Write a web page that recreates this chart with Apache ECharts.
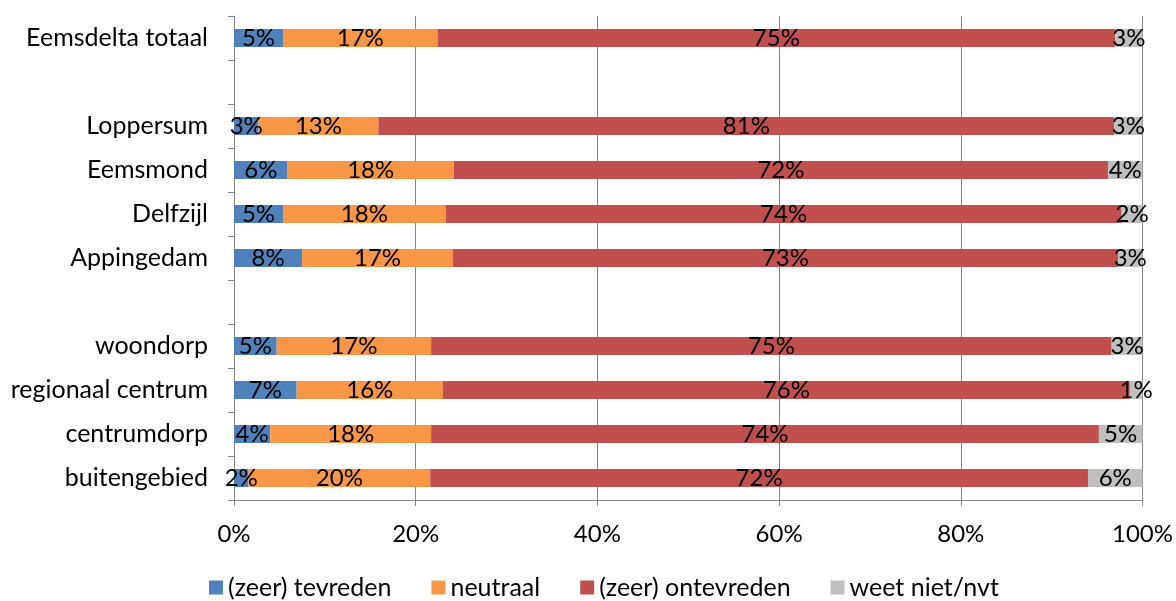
<!DOCTYPE html>
<html>
<head>
<meta charset="utf-8">
<script src="https://cdn.jsdelivr.net/npm/echarts@6/dist/echarts.min.js"></script>
<style>
  html, body { margin: 0; padding: 0; background: #fff; }
  #chart { width: 1176px; height: 601px; }
</style>
</head>
<body>
<div id="chart"></div>
<script>
// categories top to bottom (blank rows separate the groups)
var categories = ['Eemsdelta totaal', ' ', 'Loppersum', 'Eemsmond', 'Delfzijl', 'Appingedam', '  ',
  'woondorp', 'regionaal centrum', 'centrumdorp', 'buitengebied'];

var tevreden   = [5.4, null, 2.7, 5.9, 5.4, 7.5, null, 4.7, 6.9, 4.0, 1.6];
var neutraal   = [17.0, null, 13.2, 18.3, 17.9, 16.6, null, 17.0, 16.1, 17.7, 20.0];
var ontevreden = [74.6, null, 81.0, 72.0, 74.4, 73.2, null, 74.9, 75.6, 73.5, 72.4];
var weetNiet   = [3.0, null, 3.1, 3.8, 2.3, 2.7, null, 3.4, 1.4, 4.8, 6.0];

var seriesNames = ['(zeer) tevreden', 'neutraal', '(zeer) ontevreden', 'weet niet/nvt'];
var colors = ['#4f81bd', '#f79646', '#c0504d', '#bfbfbf'];

var font = 'Lato';
var chart = echarts.init(document.getElementById('chart'), null, { renderer: 'canvas' });

function makeSeries(name, data, color) {
  return {
    name: name,
    type: 'bar',
    stack: 'total',
    data: data,
    barWidth: 18,
    itemStyle: { color: color },
    label: {
      show: true,
      position: 'inside',
      color: '#000',
      fontFamily: font,
      fontSize: 24,
      formatter: function (p) {
        return p.value == null ? '' : Math.round(p.value) + '%';
      }
    }
  };
}

var option = {
  animation: false,
  textStyle: { fontFamily: font },
  grid: { left: 234, right: 33, top: 16, bottom: 101, containLabel: false },
  legend: {
    top: 570,
    left: 204,
    itemWidth: 14,
    itemHeight: 14,
    itemGap: 40,
    icon: 'rect',
    textStyle: { fontFamily: font, fontSize: 25, color: '#000' },
    data: seriesNames
  },
  xAxis: {
    type: 'value',
    min: 0,
    max: 100,
    interval: 20,
    axisLine: { show: true, lineStyle: { color: '#868686' } },
    axisTick: { show: true, length: 6, lineStyle: { color: '#868686' } },
    axisLabel: {
      color: '#000', fontFamily: font, fontSize: 24, margin: 22,
      formatter: '{value}%'
    },
    splitLine: { show: true, lineStyle: { color: '#868686', width: 1 } }
  },
  yAxis: {
    type: 'category',
    inverse: true,
    data: categories,
    axisLine: { show: true, lineStyle: { color: '#868686' } },
    axisTick: { show: true, length: 6, lineStyle: { color: '#868686' } },
    axisLabel: { color: '#000', fontFamily: font, fontSize: 25, margin: 26 }
  },
  series: [
    makeSeries(seriesNames[0], tevreden, colors[0]),
    makeSeries(seriesNames[1], neutraal, colors[1]),
    makeSeries(seriesNames[2], ontevreden, colors[2]),
    makeSeries(seriesNames[3], weetNiet, colors[3])
  ]
};

chart.setOption(option);
</script>
</body>
</html>
